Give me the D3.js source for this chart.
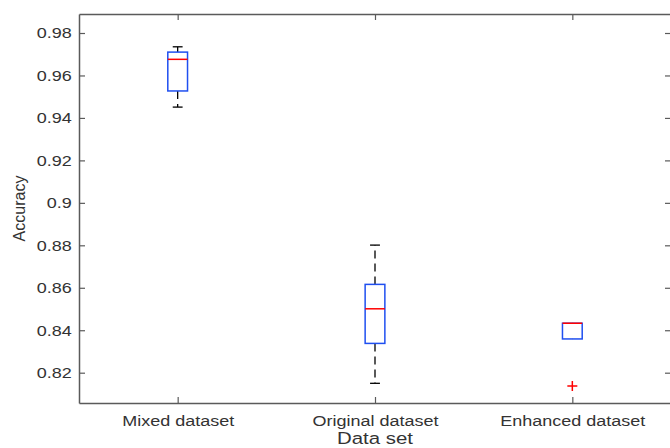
<!DOCTYPE html>
<html>
<head>
<meta charset="utf-8">
<script src="https://cdn.jsdelivr.net/npm/d3@7"></script>
<style>
    body { margin: 0; background: #fff; }
    text { font-family: "Liberation Sans", Arial, sans-serif; fill: #333; }
</style>
</head>
<body>
<svg></svg>
<script>
// box plot values
const categories = ["Mixed dataset", "Original dataset", "Enhanced dataset"];
const q1 = [0.9527, 0.8338, 0.8359];
const medians = [0.9676, 0.8501, 0.8433];
const q3 = [0.9710, 0.8616, 0.8433];
const whiskerLow = [0.9451, 0.8150, 0.8359];
const whiskerHigh = [0.9735, 0.8801, 0.8433];
const outliers = [[], [], [0.8137]];
const yTicks = [0.82, 0.84, 0.86, 0.88, 0.90, 0.92, 0.94, 0.96, 0.98];
const yTickLabels = ["0.82", "0.84", "0.86", "0.88", "0.9", "0.92", "0.94", "0.96", "0.98"];

const W = 670, H = 448;
const plotLeft = 79, plotRight = 671, plotTop = 14, plotBottom = 403;
const axisColor = '#5a5a5a';
const stretch = 'scale(1.2,1)'; // the picture is a bit wide, text looks stretched

const svg = d3.select('svg')
    .attr('width', W)
    .attr('height', H);

const x = d3.scaleLinear().domain([0.5, 3.5]).range([plotLeft, plotRight]);
const y = d3.scaleLinear().domain([0.80573, 0.98895]).range([plotBottom, plotTop]);

// axes, ticks pointing inside like matlab
function styleAxis(g) {
    g.select('.domain').attr('stroke', axisColor).attr('stroke-width', 1.5);
    g.selectAll('.tick line').attr('stroke', axisColor).attr('stroke-width', 1.2);
}

svg.append('g')
    .attr('transform', `translate(${plotLeft},0)`)
    .call(d3.axisLeft(y).tickValues(yTicks).tickFormat((d, i) => yTickLabels[i])
        .tickSize(-6).tickSizeOuter(0).tickPadding(6))
    .call(styleAxis)
    .call(g => g.selectAll('.tick text')
        .attr('font-size', 15).attr('fill', '#333')
        .attr('transform', stretch));

svg.append('g')
    .attr('transform', `translate(${plotRight},0)`)
    .call(d3.axisRight(y).tickValues(yTicks).tickFormat('').tickSize(-6).tickSizeOuter(0))
    .call(styleAxis);

svg.append('g')
    .attr('transform', `translate(0,${plotBottom})`)
    .call(d3.axisBottom(x).tickValues([1, 2, 3]).tickFormat(i => categories[i - 1])
        .tickSize(-6).tickSizeOuter(0))
    .call(styleAxis)
    .call(g => g.selectAll('.tick text')
        .attr('font-size', 15).attr('fill', '#333')
        .attr('y', 23).attr('dy', 0)
        .attr('transform', stretch));

svg.append('g')
    .attr('transform', `translate(0,${plotTop})`)
    .call(d3.axisTop(x).tickValues([1, 2, 3]).tickFormat('').tickSize(-6).tickSizeOuter(0))
    .call(styleAxis);

// axis titles
svg.append('text')
    .attr('transform', `translate(${(plotLeft + plotRight) / 2},444) scale(1.2,1)`)
    .attr('text-anchor', 'middle')
    .attr('font-size', 17)
    .text('Data set');

svg.append('text')
    .attr('transform', `translate(25,${(plotTop + plotBottom) / 2}) rotate(-90)`)
    .attr('text-anchor', 'middle')
    .attr('font-size', 16)
    .text('Accuracy');

// boxes
const boxW = x(1.1) - x(1);
const capW = boxW / 2;

categories.forEach((c, i) => {
    const cx = x(i + 1);
    const g = svg.append('g');

    // dashed whiskers
    g.append('line')
        .attr('x1', cx).attr('x2', cx)
        .attr('y1', y(q3[i])).attr('y2', y(whiskerHigh[i]))
        .attr('stroke', '#000').attr('stroke-width', 1.3).attr('stroke-dasharray', '8,5');
    g.append('line')
        .attr('x1', cx).attr('x2', cx)
        .attr('y1', y(q1[i])).attr('y2', y(whiskerLow[i]))
        .attr('stroke', '#000').attr('stroke-width', 1.3).attr('stroke-dasharray', '8,5');

    // caps
    if (whiskerHigh[i] > q3[i]) {
        g.append('line')
            .attr('x1', cx - capW / 2).attr('x2', cx + capW / 2)
            .attr('y1', y(whiskerHigh[i])).attr('y2', y(whiskerHigh[i]))
            .attr('stroke', '#000').attr('stroke-width', 1.3);
    }
    if (whiskerLow[i] < q1[i]) {
        g.append('line')
            .attr('x1', cx - capW / 2).attr('x2', cx + capW / 2)
            .attr('y1', y(whiskerLow[i])).attr('y2', y(whiskerLow[i]))
            .attr('stroke', '#000').attr('stroke-width', 1.3);
    }

    // box
    g.append('rect')
        .attr('x', cx - boxW / 2)
        .attr('y', y(q3[i]))
        .attr('width', boxW)
        .attr('height', y(q1[i]) - y(q3[i]))
        .attr('fill', 'none')
        .attr('stroke', '#1f4ff0')
        .attr('stroke-width', 1.5);

    // median
    g.append('line')
        .attr('x1', cx - boxW / 2).attr('x2', cx + boxW / 2)
        .attr('y1', y(medians[i])).attr('y2', y(medians[i]))
        .attr('stroke', '#ff0000').attr('stroke-width', 1.5);

    // outliers as red plus
    outliers[i].forEach(v => {
        g.append('path')
            .attr('d', `M${cx - 5},${y(v)}H${cx + 5}M${cx},${y(v) - 5}V${y(v) + 5}`)
            .attr('stroke', '#ff0000').attr('stroke-width', 1.5)
            .attr('fill', 'none');
    });
});
</script>
</body>
</html>
